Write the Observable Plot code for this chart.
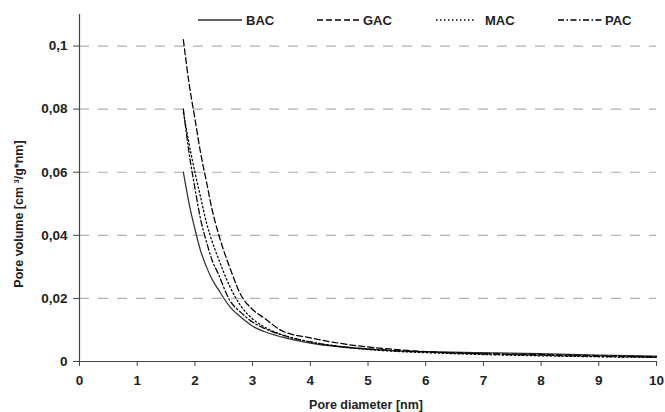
<!DOCTYPE html>
<html><head><meta charset="utf-8">
<script src="https://cdn.jsdelivr.net/npm/d3@7"></script>
<script src="https://cdn.jsdelivr.net/npm/@observablehq/plot@0.6"></script>
<style>
body{margin:0;background:#fff;font-family:"Liberation Sans",Arial,sans-serif;}
#wrap{position:relative;width:665px;height:412px;}
#legend{position:absolute;left:0;top:0;width:665px;height:40px;pointer-events:none;}
</style></head>
<body><div id="wrap"><svg id="legend" width="665" height="40"></svg></div>
<script>
const xs = [1.8,1.9,2.0,2.1,2.2,2.3,2.4,2.6,2.8,3.0,3.2,3.5,4.0,4.5,5.0,5.5,6.0,7.0,8.0,9.0,10.0];
const BAC = [0.060,0.050,0.042,0.035,0.030,0.026,0.023,0.0175,0.014,0.0112,0.0095,0.0078,0.0058,0.0046,0.0039,0.0034,0.0031,0.0028,0.0025,0.0020,0.0017];
const GAC = [0.102,0.088,0.077,0.066,0.057,0.048,0.041,0.030,0.021,0.0165,0.0138,0.0098,0.0075,0.0058,0.0046,0.0038,0.0031,0.0025,0.0022,0.0018,0.0015];
const MAC = [0.079,0.069,0.060,0.052,0.044,0.038,0.033,0.024,0.0175,0.0135,0.011,0.0085,0.0062,0.0048,0.0038,0.0032,0.0028,0.0022,0.0018,0.0015,0.0013];
const PAC = [0.080,0.066,0.055,0.045,0.038,0.032,0.028,0.0195,0.0155,0.0125,0.0105,0.0085,0.0062,0.0048,0.0040,0.0034,0.0031,0.0024,0.0020,0.0016,0.0014];
const seriesNames = ["BAC","GAC","MAC","PAC"];
const seriesValues = {BAC, GAC, MAC, PAC};
const dashes = {BAC:null, GAC:"6,3", MAC:"1.5,2.5", PAC:"6,2.5,1.5,2.5"};
const strokes = {BAC:"#333", GAC:"#000", MAC:"#000", PAC:"#000"};
const xTicks = [0,1,2,3,4,5,6,7,8,9,10];
const yTicks = [0,0.02,0.04,0.06,0.08,0.1];
const gridTicks = [0.02,0.04,0.06,0.08,0.1];
const fmt = d => d === 0 ? "0" : String(d).replace(".", ",");
const FONT = '"Liberation Sans", Arial, sans-serif';

const lineMarks = seriesNames.map(name =>
  Plot.line(xs.map((x,i)=>({x, y: seriesValues[name][i]})), {
    x:"x", y:"y", stroke: strokes[name], strokeWidth: 1.25,
    strokeDasharray: dashes[name], curve: "monotone-x"
  }));

const chart = Plot.plot({
  width: 665, height: 412,
  marginLeft: 79, marginRight: 9, marginTop: 14, marginBottom: 51,
  style: {fontFamily: FONT, background: "#fff", color: "#222"},
  x: {domain: [0,10]},
  y: {domain: [0,0.11]},
  marks: [
    Plot.ruleY(gridTicks, {stroke:"#b0b0b0", strokeWidth:1.2, strokeDasharray:"10,9"}),
    ...lineMarks,
    Plot.ruleX([0], {y1:0, y2:0.11, stroke:"#444", strokeWidth:1.2}),
    Plot.ruleY([0], {stroke:"#444", strokeWidth:1.2}),
    Plot.axisY({ticks: yTicks, tickFormat: fmt, tickSize: 6, tickPadding: 6, fontSize: 13.5, fontWeight: "bold", label: null, stroke:"#444"}),
    Plot.axisX({ticks: xTicks, tickFormat: d => String(d), tickSize: 5, tickPadding: 9, fontSize: 13.5, fontWeight: "bold", label: null, stroke:"#444"}),
    Plot.text(["Pore diameter [nm]"], {frameAnchor:"bottom", textAnchor:"middle", lineAnchor:"middle", dx:-2, dy: 43, fontSize: 12.5, fontWeight: 600, fill:"#222"}),
    Plot.text(["Pore volume [cm \u00B3/g*nm]"], {frameAnchor:"left", textAnchor:"middle", lineAnchor:"middle", rotate:-90, dx:-61, dy:26, fontSize: 12.5, fontWeight: 600, fill:"#222"})
  ]
});
const wrap = document.getElementById("wrap");
wrap.insertBefore(chart, wrap.firstChild);

// legend
const legendLine = {BAC:[198,242], GAC:[317,361], MAC:[436,476], PAC:[558,602]};
const legendText = {BAC:246, GAC:363, MAC:485, PAC:605};
const lg = d3.select("#legend");
seriesNames.forEach(name => {
  const [a,b] = legendLine[name];
  lg.append("line").attr("x1", a).attr("x2", b).attr("y1", 20).attr("y2", 20)
    .attr("stroke", strokes[name]).attr("stroke-width", 1.3)
    .attr("stroke-dasharray", dashes[name]);
  lg.append("text").attr("x", legendText[name]).attr("y", 20).attr("dy", "0.35em")
    .attr("font-size", 13).attr("font-weight", "bold").attr("fill", "#222")
    .attr("font-family", FONT).text(name);
});
</script></body></html>
